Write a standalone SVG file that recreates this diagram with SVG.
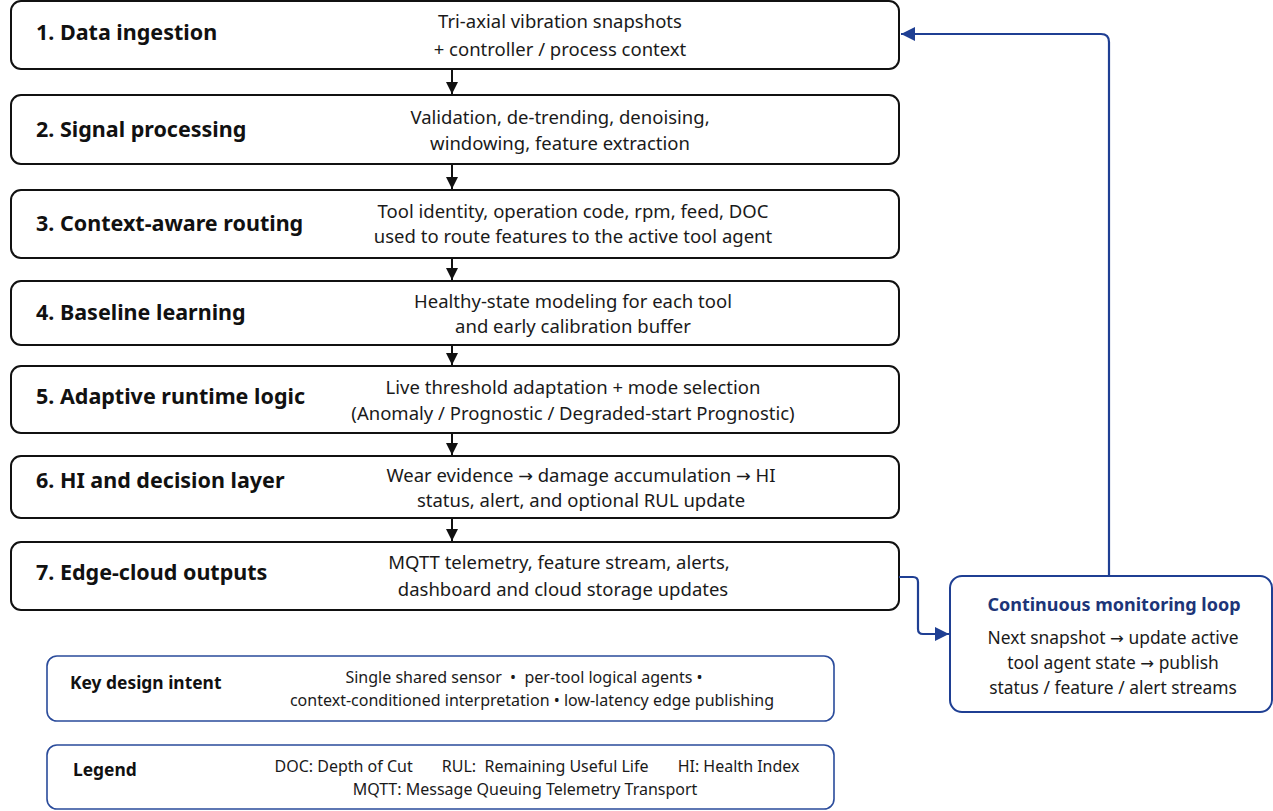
<svg xmlns="http://www.w3.org/2000/svg" width="1273" height="811" viewBox="0 0 1273 811">
  <style>
    .step { fill: #ffffff; stroke: #111111; stroke-width: 2; }
    .title { font-family: "Noto Sans", "Open Sans", sans-serif; font-weight: 700; font-size: 21.5px; fill: #111111; }
    .desc { font-family: "Noto Sans", "Open Sans", sans-serif; font-size: 18.5px; fill: #1a1a1a; text-anchor: middle; }
    .note { fill: #ffffff; stroke: #2a4b9b; stroke-width: 1.6; }
    .noteTitle { font-family: "Noto Sans", "Open Sans", sans-serif; font-weight: 700; font-size: 17.4px; fill: #111111; }
    .noteText { font-family: "Noto Sans", "Open Sans", sans-serif; font-size: 16px; fill: #1a1a1a; text-anchor: middle; }
    .loopBox { fill: #ffffff; stroke: #1f3f93; stroke-width: 2; }
    .loopTitle { font-family: "Noto Sans", "Open Sans", sans-serif; font-weight: 700; font-size: 18px; fill: #1d3578; text-anchor: middle; }
    .loopText { font-family: "Noto Sans", "Open Sans", sans-serif; font-size: 17.4px; fill: #1a1a1a; text-anchor: middle; }
    .arw { font-family: "DejaVu Sans", sans-serif; font-size: 0.95em; }
    .flow { stroke: #111111; stroke-width: 2; fill: none; }
    .loop { stroke: #1f3f93; stroke-width: 2.2; fill: none; }
  </style>
  <defs>
    <marker id="arrowBlack" viewBox="0 0 10 10" refX="10" refY="5" markerWidth="6" markerHeight="6" markerUnits="strokeWidth" orient="auto">
      <path d="M0,0 L10,5 L0,10 z" fill="#111111"/>
    </marker>
    <marker id="arrowBlue" viewBox="0 0 10 10" refX="10" refY="5" markerWidth="6.5" markerHeight="6.5" markerUnits="strokeWidth" orient="auto">
      <path d="M0,0 L10,5 L0,10 z" fill="#1f3f93"/>
    </marker>
  </defs>
  <rect width="1273" height="811" fill="#ffffff"/>

  <g id="step1">
    <rect class="step" x="11" y="1" width="888" height="68" rx="10"/>
    <text class="title" x="36" y="40">1. Data ingestion</text>
    <text class="desc" x="560" y="28">Tri-axial vibration snapshots</text>
    <text class="desc" x="560" y="56">+ controller / process context</text>
  </g>
  <g id="step2">
    <rect class="step" x="11" y="95" width="888" height="69" rx="10"/>
    <text class="title" x="36" y="137">2. Signal processing</text>
    <text class="desc" x="560" y="124">Validation, de-trending, denoising,</text>
    <text class="desc" x="560" y="150">windowing, feature extraction</text>
  </g>
  <g id="step3">
    <rect class="step" x="11" y="190" width="888" height="68" rx="10"/>
    <text class="title" x="36" y="231">3. Context-aware routing</text>
    <text class="desc" x="573" y="218">Tool identity, operation code, rpm, feed, DOC</text>
    <text class="desc" x="573" y="243">used to route features to the active tool agent</text>
  </g>
  <g id="step4">
    <rect class="step" x="11" y="281" width="888" height="64" rx="10"/>
    <text class="title" x="36" y="320">4. Baseline learning</text>
    <text class="desc" x="573" y="308">Healthy-state modeling for each tool</text>
    <text class="desc" x="573" y="333">and early calibration buffer</text>
  </g>
  <g id="step5">
    <rect class="step" x="11" y="366" width="888" height="67" rx="10"/>
    <text class="title" x="36" y="404">5. Adaptive runtime logic</text>
    <text class="desc" x="573" y="394">Live threshold adaptation + mode selection</text>
    <text class="desc" x="573" y="420">(Anomaly / Prognostic / Degraded-start Prognostic)</text>
  </g>
  <g id="step6">
    <rect class="step" x="11" y="456" width="888" height="62" rx="10"/>
    <text class="title" x="36" y="488">6. HI and decision layer</text>
    <text class="desc" x="581" y="482">Wear evidence <tspan class="arw">→</tspan> damage accumulation <tspan class="arw">→</tspan> HI</text>
    <text class="desc" x="581" y="507">status, alert, and optional RUL update</text>
  </g>
  <g id="step7">
    <rect class="step" x="11" y="542" width="888" height="68" rx="10"/>
    <text class="title" x="36" y="580">7. Edge-cloud outputs</text>
    <text class="desc" x="559" y="569">MQTT telemetry, feature stream, alerts,</text>
    <text class="desc" x="563" y="596">dashboard and cloud storage updates</text>
  </g>

  <g id="monitoring-loop">
    <rect class="loopBox" x="950" y="576" width="322" height="136" rx="12"/>
    <text class="loopTitle" x="1114" y="611">Continuous monitoring loop</text>
    <text class="loopText" x="1113" y="644">Next snapshot <tspan class="arw">→</tspan> update active</text>
    <text class="loopText" x="1113" y="669">tool agent state <tspan class="arw">→</tspan> publish</text>
    <text class="loopText" x="1113" y="694">status / feature / alert streams</text>
  </g>

  <g id="design-intent">
    <rect class="note" x="47" y="656" width="787" height="65" rx="10"/>
    <text class="noteTitle" x="70" y="689">Key design intent</text>
    <text class="noteText" x="524" y="683" xml:space="preserve">Single shared sensor  •  per-tool logical agents •</text>
    <text class="noteText" x="532" y="706">context-conditioned interpretation • low-latency edge publishing</text>
  </g>
  <g id="legend">
    <rect class="note" x="47" y="745" width="787" height="64" rx="10"/>
    <text class="noteTitle" x="73" y="776">Legend</text>
    <text class="noteText" x="537" y="772" xml:space="preserve">DOC: Depth of Cut       RUL:  Remaining Useful Life       HI: Health Index</text>
    <text class="noteText" x="525" y="795">MQTT: Message Queuing Telemetry Transport</text>
  </g>

  <g id="connectors">
    <line class="flow" x1="452" y1="69" x2="452" y2="94" marker-end="url(#arrowBlack)"/>
    <line class="flow" x1="452" y1="164" x2="452" y2="189" marker-end="url(#arrowBlack)"/>
    <line class="flow" x1="452" y1="258" x2="452" y2="280" marker-end="url(#arrowBlack)"/>
    <line class="flow" x1="452" y1="345" x2="452" y2="365" marker-end="url(#arrowBlack)"/>
    <line class="flow" x1="452" y1="433" x2="452" y2="455" marker-end="url(#arrowBlack)"/>
    <line class="flow" x1="452" y1="518" x2="452" y2="541" marker-end="url(#arrowBlack)"/>
    <path class="loop" d="M899,577 H913 Q918,577 918,582 V629 Q918,634 923,634 H949" marker-end="url(#arrowBlue)"/>
    <path class="loop" d="M1109,576 V42 Q1109,34 1101,34 H901" marker-end="url(#arrowBlue)"/>
  </g>
</svg>
